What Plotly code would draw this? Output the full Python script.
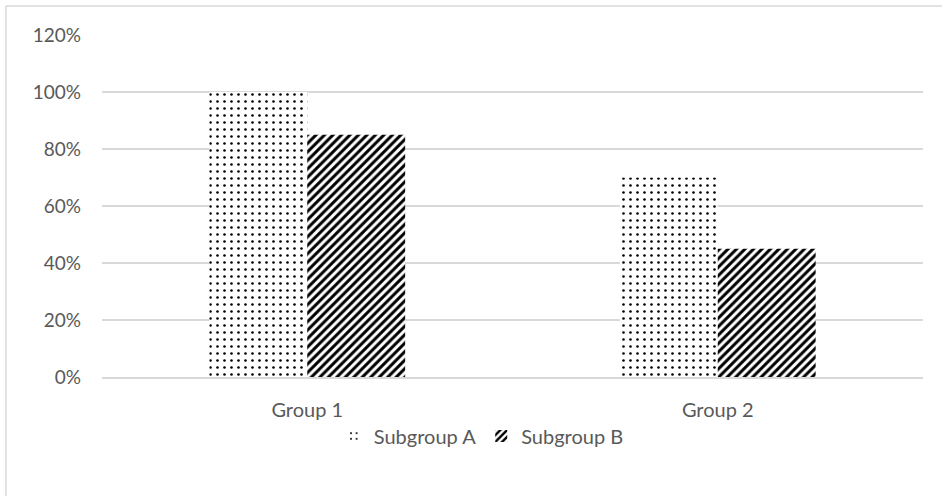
import plotly.graph_objects as go

categories = ["Group 1", "Group 2"]
subgroup_a = [1.00, 0.70]
subgroup_b = [0.85, 0.45]
tick_vals = [0, 0.2, 0.4, 0.6, 0.8, 1.0, 1.2]
tick_text = ["0%", "20%", "40%", "60%", "80%", "100%", "120%"]

TXT = "#595959"
GRID = "#d9d9d9"
FONT = "Lato"

fig = go.Figure()
fig.add_trace(go.Bar(
    x=categories, y=subgroup_a, name="Subgroup A",
    marker=dict(color="white", line=dict(width=0),
                pattern=dict(shape=".", fgcolor="black", bgcolor="white", fgopacity=1,
                             size=7, solidity=0.11, fillmode="replace")),
))
fig.add_trace(go.Bar(
    x=categories, y=subgroup_b, name="Subgroup B",
    marker=dict(color="white", line=dict(width=0),
                pattern=dict(shape="/", fgcolor="black", bgcolor="white", fgopacity=1,
                             size=6, solidity=0.5, fillmode="replace")),
))

fig.update_layout(
    width=942, height=496,
    margin=dict(l=102, r=19, t=35, b=119),
    paper_bgcolor="white", plot_bgcolor="white",
    barmode="group", bargap=0.523, bargroupgap=0,
    font=dict(family=FONT, size=19, color=TXT),
    showlegend=True,
    legend=dict(orientation="h", x=0.462, xanchor="center", y=-0.1725, yanchor="middle",
                font=dict(family=FONT, size=20, color=TXT), itemwidth=30,
                traceorder="normal", bgcolor="rgba(0,0,0,0)"),
    xaxis=dict(showgrid=False, showline=True, linecolor=GRID, linewidth=1.5,
               ticks="", tickfont=dict(family=FONT, size=20, color=TXT),
               ticklabelstandoff=14, fixedrange=True),
    yaxis=dict(range=[0, 1.2], tickvals=tick_vals, ticktext=tick_text,
               showgrid=True, gridcolor=GRID, gridwidth=1.5, zeroline=False,
               showline=False, ticks="", tickfont=dict(family=FONT, size=19, color=TXT),
               ticklabelstandoff=20, fixedrange=True),
    shapes=[
        dict(type="line", xref="paper", yref="paper", x0=-0.117, x1=1.2, y0=1.0848, y1=1.0848,
             line=dict(color=GRID, width=1.5)),
        dict(type="line", xref="paper", yref="paper", x0=-0.117, x1=-0.117, y0=1.0848, y1=-0.5,
             line=dict(color=GRID, width=1.5)),
    ],
)

fig.write_html("out.html", config={"displayModeBar": False},
               post_script="document.body.style.margin='0';")
